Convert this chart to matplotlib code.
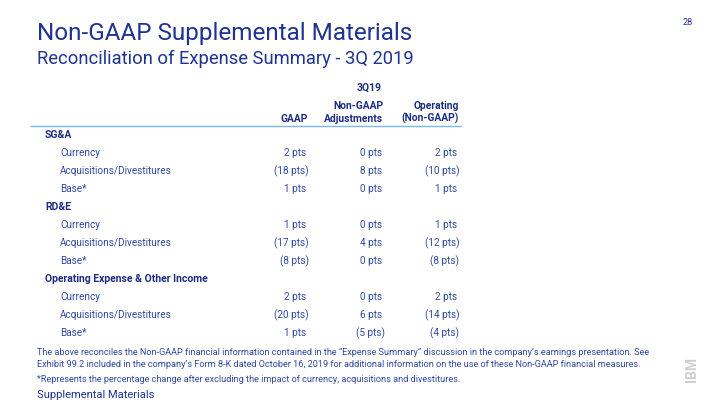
import matplotlib
matplotlib.use("Agg")
import matplotlib.pyplot as plt

W, H = 720, 405
FONT = "Roboto"

title = "Non-GAAP Supplemental Materials"
subtitle = "Reconciliation of Expense Summary - 3Q 2019"
page_no = "28"
period = "3Q19"
col_headers = [("", "GAAP"), ("Non-GAAP", "Adjustments"), ("Operating", "(Non-GAAP)")]

sections = ["SG&A", "RD&E", "Operating Expense & Other Income"]
items = ["Currency", "Acquisitions/Divestitures", "Base*"]
gaap = [[2, -18, 1], [1, -17, -8], [2, -20, 1]]
adjustments = [[0, 8, 0], [0, 4, 0], [0, 6, -5]]
operating = [[2, -10, 1], [1, -12, -8], [2, -14, -4]]

footnote1a = ("The above reconciles the Non-GAAP financial information contained in the \u201cExpense Summary\u201d "
              "discussion in the company\u2019s earnings presentation. See")
footnote1b = ("Exhibit 99.2 included in the company\u2019s Form 8-K dated October 16, 2019 for additional "
              "information on the use of these Non-GAAP financial measures.")
footnote2 = "*Represents the percentage change after excluding the impact of currency, acquisitions and divestitures."
footer = "Supplemental Materials"

NAVY = "#1f3391"
BLUE = "#3049a0"
BOLD = "#1c2d82"

fig = plt.figure(figsize=(W / 100, H / 100), dpi=100)
ax = fig.add_axes([0, 0, 1, 1])
ax.set_xlim(0, W)
ax.set_ylim(H, 0)
ax.axis("off")

ax.text(37, 40, title, fontsize=17.5, color=NAVY, family=FONT, va="baseline", ha="left")
ax.text(37, 64, subtitle, fontsize=13.2, color=NAVY, family=FONT, va="baseline", ha="left")
ax.text(683, 25, page_no, fontsize=6.5, color=NAVY, family=FONT, va="baseline", ha="left")

hfs = 7.4
ax.text(369, 91, period, fontsize=hfs, color=BOLD, family=FONT, weight="bold", ha="center", va="baseline")
col_right = [306, 382, 457]
for i, (h1, h2) in enumerate(col_headers):
    if i == 1:
        ax.text(358, 109, h1, fontsize=hfs, color=BOLD, family=FONT, weight="bold", ha="center", va="baseline")
        ax.text(354, 122, h2, fontsize=hfs, color=BOLD, family=FONT, weight="bold", ha="center", va="baseline")
    else:
        x = col_right[i] + 2
        if h1:
            ax.text(x, 109, h1, fontsize=hfs, color=BOLD, family=FONT, weight="bold", ha="right", va="baseline")
        ax.text(x, 122, h2, fontsize=hfs, color=BOLD, family=FONT, weight="bold", ha="right", va="baseline")

ax.plot([30, 461], [125.5, 125.5], color="#78b8ea", lw=1.0, solid_capstyle="butt")

def fmt(v):
    return f"({abs(v)} pts)" if v < 0 else f"{v} pts"

tfs = 7.2
y = 138
for s, sec in enumerate(sections):
    ax.text(45, y, sec, fontsize=7.5, color=BOLD, family=FONT, weight="bold", ha="left", va="baseline")
    y += 18
    for r, item in enumerate(items):
        ax.text(60, y, item, fontsize=tfs, color=BLUE, family=FONT, ha="left", va="baseline")
        for c, vals in enumerate([gaap, adjustments, operating]):
            v = vals[s][r]
            x = col_right[c] + (2.5 if v < 0 else 0)
            ax.text(x, y, fmt(v), fontsize=tfs, color=BLUE, family=FONT, ha="right", va="baseline")
        y += 18

ffs = 6.55
ax.text(37, 355, footnote1a, fontsize=ffs, color=BLUE, family=FONT, ha="left", va="baseline")
ax.text(37, 367, footnote1b, fontsize=ffs, color=BLUE, family=FONT, ha="left", va="baseline")
ax.text(37, 382, footnote2, fontsize=ffs, color=BLUE, family=FONT, ha="left", va="baseline")
ax.text(37, 398, footer, fontsize=8.0, color=NAVY, family=FONT, ha="left", va="baseline")
ax.text(692, 370, "IBM", fontsize=10, color="#cfcfcf", family=FONT, weight="bold", rotation=90, ha="center", va="center")

fig.savefig("out.png", dpi=100)
